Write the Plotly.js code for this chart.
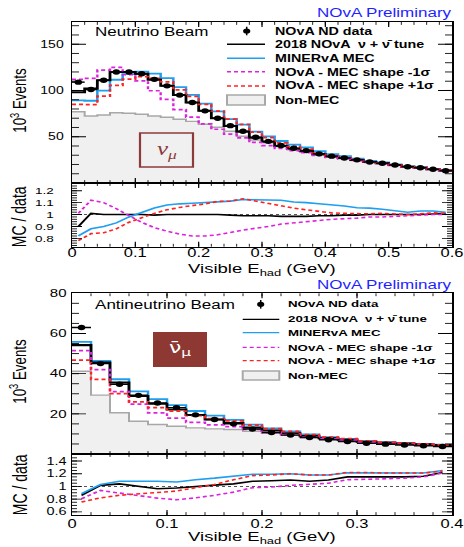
<!DOCTYPE html>
<html><head><meta charset="utf-8">
<script src="https://cdn.plot.ly/plotly-3.0.1.min.js"></script>
<style>
html,body{margin:0;padding:0;background:#fff;overflow:hidden}
#wrap{width:464px;height:547px;overflow:hidden;position:relative}
#plot{width:464px;height:760px;transform:scaleY(0.719737);transform-origin:0 0}
</style>
</head><body><div id="wrap"><div id="plot"></div></div>
<script>
// ---------- Neutrino beam (top) ----------
const binsNu = [0.01,0.03,0.05,0.07,0.09,0.11,0.13,0.15,0.17,0.19,0.21,0.23,0.25,0.27,0.29,0.31,0.33,0.35,0.37,0.39,0.41,0.43,0.45,0.47,0.49,0.51,0.53,0.55,0.57,0.59];
const dataNu    = [109,101,111,120,120,118,112,105,95,87,78,70,62,56,49.5,45,40.5,37.5,35,31.5,29,27,25,22.7,21.3,19.4,17.6,16.5,14.8,13.3];
const tuneNu    = [98,102,111,120,120,118,111.5,105,95,87,78,70,61.7,55.4,49,44.6,39.9,36.9,34.5,31.2,28.7,26.9,24.9,22.7,21.3,19.4,17.6,16.5,14.9,13.4];
const minervaNu = [89.4,88.9,99.9,111.6,117.6,120.4,118.2,113.4,103.6,95.3,85.8,77.4,69,63.1,55.6,50.4,45.4,41.4,38.5,34.3,31.3,28.9,26.4,23.9,22.3,20.1,18,17,15.2,13.6];
const minusNu   = [112,113,122,125,117,110.3,99.7,90.3,79.4,71.3,64,58.1,52.7,48.7,43.8,40.5,37.3,34.9,32.9,29.9,27.8,26.1,24.3,22.2,20.9,19.1,17.4,16.4,14.8,13.3];
const plusNu    = [85,84.8,94,105.6,112.2,115,113.1,109.2,100.7,93.5,85,77.7,69,63.4,55.1,49,43.3,39.5,36.4,32.3,29.4,27.3,25.2,22.8,21.5,19.5,17.6,16.6,15,13.4];
const nonMecNu  = [77,72.5,73.5,76,75.3,74.2,72.4,71,68.8,66.6,63.4,60.2,56,50.5,46.5,43.5,39.3,35.8,33.3,30.3,28.2,26.3,24.4,22.3,21,19.1,17.3,16.2,14.6,13.1];
const rTuneNu    = [0.9,1.01,1.0,1.0,1.0,1.0,0.995,1.0,1.0,1.0,1.0,1.0,0.995,0.99,0.99,0.99,0.985,0.985,0.985,0.99,0.99,0.995,0.995,1.0,1.0,1.0,1.0,1.0,1.005,1.01];
const rMinervaNu = [0.82,0.88,0.9,0.93,0.98,1.02,1.055,1.08,1.09,1.095,1.1,1.105,1.113,1.127,1.124,1.12,1.12,1.105,1.1,1.09,1.08,1.072,1.057,1.054,1.045,1.034,1.02,1.03,1.03,1.02];
const rMinusNu   = [1.01,1.12,1.1,1.05,0.99,0.935,0.89,0.86,0.836,0.82,0.82,0.83,0.85,0.87,0.885,0.9,0.92,0.93,0.94,0.95,0.96,0.965,0.97,0.98,0.98,0.985,0.99,0.995,1.0,1.0];
const rPlusNu    = [0.78,0.84,0.847,0.88,0.935,0.975,1.01,1.04,1.06,1.075,1.09,1.11,1.113,1.133,1.113,1.09,1.07,1.054,1.04,1.025,1.014,1.01,1.006,1.006,1.01,1.006,1.0,1.006,1.014,1.01];

// ---------- Antineutrino beam (bottom) ----------
const binsNub = [0.01,0.03,0.05,0.07,0.09,0.11,0.13,0.15,0.17,0.19,0.21,0.23,0.25,0.27,0.29,0.31,0.33,0.35,0.37,0.39];
const dataNub    = [63,45,34.7,29.2,25.4,23.1,19.5,17.2,15,12.4,10.7,9.4,8.2,7.1,6.2,5.3,4.9,4.5,4.1,3.7];
const tuneNub    = [54.2,45.6,35.6,28.9,25,22.2,19.4,17.2,15.4,13.2,11.7,10.3,8.9,7.8,7.1,6.1,5.6,5.2,4.8,4.5];
const minervaNub = [55.8,46.3,37.2,31.2,27.3,24.3,21.4,19.1,17,14.6,12.7,11.3,9.7,8.4,7.5,6.4,5.9,5.4,5.0,4.6];
const minusNub   = [51.5,42,31,24.8,20.5,17.9,15.8,14.5,13.6,12.3,10.6,9.6,8.4,7.5,6.9,5.9,5.5,5.1,4.7,4.5];
const plusNub    = [46.7,37.2,30.1,25.9,23.1,21.4,19.1,17.6,16.5,14.4,12.6,11.3,9.7,8.4,7.6,6.5,5.9,5.4,5.0,4.6];
const nonMecNub  = [41.2,29.3,20.5,16.3,14.7,13.8,13,12.5,12.2,11.3,10.3,9.3,8.2,7.3,6.6,5.7,5.3,4.9,4.5,4.2];
const rTuneNub    = [0.858,1.016,1.04,1.0,0.963,0.975,1.0,1.02,1.04,1.08,1.09,1.1,1.08,1.1,1.15,1.15,1.15,1.15,1.16,1.22];
const rMinervaNub = [0.885,1.03,1.08,1.08,1.08,1.07,1.105,1.13,1.16,1.19,1.19,1.2,1.18,1.18,1.215,1.215,1.21,1.21,1.21,1.25];
const rMinusNub   = [0.806,0.937,0.895,0.858,0.816,0.79,0.82,0.86,0.91,0.98,0.99,1.016,1.03,1.05,1.105,1.11,1.12,1.13,1.15,1.21];
const rPlusNub    = [0.753,0.82,0.86,0.885,0.91,0.927,0.98,1.03,1.105,1.17,1.18,1.2,1.18,1.18,1.22,1.22,1.21,1.21,1.21,1.24];

const binHalfWidth = 0.01;
const xTicksNu = [0,0.1,0.2,0.3,0.4,0.5,0.6];
const xTicksNub = [0,0.1,0.2,0.3,0.4];
const legendLabels = ['NOvA ND data', '2018 NOvA  ν + ν\u0304 tune', 'MINERvA MEC',
  'NOvA - MEC shape -1σ', 'NOvA - MEC shape +1σ', 'Non-MEC'];

// ---------- styles ----------
const FONT = 'Liberation Sans, Arial, Helvetica, sans-serif';
const C_BLACK = '#000000', C_BLUE = '#1e9ff0', C_MAG = '#dd22dd', C_RED = '#ff2222';
const C_GREYL = '#a8a8a8', C_GREYF = '#f0f0f0';
const DOT = '4px,3px';

function steps(c, v){
  const xs = c.map(t => t - binHalfWidth); xs.push(c[c.length-1] + binHalfWidth);
  const ys = v.slice(); ys.push(v[v.length-1]);
  return {x: xs, y: ys};
}
function stepTrace(c, v, xa, ya, color, width, dash, fill){
  const s = steps(c, v);
  const t = {x: s.x, y: s.y, xaxis: xa, yaxis: ya, mode: 'lines', type: 'scatter',
    line: {color: color, width: width, shape: 'hv', dash: dash || 'solid'}, hoverinfo: 'skip'};
  if (fill){ t.fill = 'tozeroy'; t.fillcolor = C_GREYF; }
  return t;
}
function ratioTrace(c, v, xa, ya, color, dash){
  return {x: c, y: v, xaxis: xa, yaxis: ya, mode: 'lines', type: 'scatter',
    line: {color: color, width: 2.2, dash: dash || 'solid'}, hoverinfo: 'skip'};
}
function dataTrace(c, v, xa, ya){
  return {x: c, y: v, xaxis: xa, yaxis: ya, mode: 'markers', type: 'scatter',
    marker: {color: '#000', size: 7.5, symbol: 'circle'},
    error_x: {type: 'constant', value: binHalfWidth, color: '#000', thickness: 2, width: 0},
    hoverinfo: 'skip'};
}

const traces = [
  stepTrace(binsNu, nonMecNu, 'x', 'y', C_GREYL, 2, 'solid', true),
  stepTrace(binsNu, minervaNu, 'x', 'y', C_BLUE, 2.5),
  stepTrace(binsNu, tuneNu, 'x', 'y', C_BLACK, 2.8),
  stepTrace(binsNu, minusNu, 'x', 'y', C_MAG, 2.4, DOT),
  stepTrace(binsNu, plusNu, 'x', 'y', C_RED, 2.4, DOT),
  dataTrace(binsNu, dataNu, 'x', 'y'),
  ratioTrace(binsNu, rTuneNu, 'x2', 'y2', C_BLACK),
  ratioTrace(binsNu, rMinervaNu, 'x2', 'y2', C_BLUE),
  ratioTrace(binsNu, rMinusNu, 'x2', 'y2', C_MAG, DOT),
  ratioTrace(binsNu, rPlusNu, 'x2', 'y2', C_RED, DOT),

  stepTrace(binsNub, nonMecNub, 'x3', 'y3', C_GREYL, 2, 'solid', true),
  stepTrace(binsNub, minervaNub, 'x3', 'y3', C_BLUE, 2.5),
  stepTrace(binsNub, tuneNub, 'x3', 'y3', C_BLACK, 2.8),
  stepTrace(binsNub, minusNub, 'x3', 'y3', C_MAG, 2.4, DOT),
  stepTrace(binsNub, plusNub, 'x3', 'y3', C_RED, 2.4, DOT),
  dataTrace(binsNub, dataNub, 'x3', 'y3'),
  ratioTrace(binsNub, rTuneNub, 'x4', 'y4', C_BLACK),
  ratioTrace(binsNub, rMinervaNub, 'x4', 'y4', C_BLUE),
  ratioTrace(binsNub, rMinusNub, 'x4', 'y4', C_MAG, DOT),
  ratioTrace(binsNub, rPlusNub, 'x4', 'y4', C_RED, DOT)
];

// reference-pixel helpers for page furniture
const px = x => (x - 72) / 380;
const py = y => 1 - y / 547;

function xax(range, anchor, labels, tickvals, matches, standoff){
  const a = {range: range, anchor: anchor, domain: [0,1], showline: true, linecolor: '#000', linewidth: 1.5,
    mirror: 'ticks', ticks: 'inside', ticklen: 7, tickwidth: 1.2, tickcolor: '#000',
    tickmode: 'array', tickvals: tickvals, showticklabels: labels, ticklabelstandoff: standoff || 0,
    tickfont: {family: FONT, size: 16.5, color: '#000'},
    minor: {tickmode: 'linear', tick0: 0, dtick: 0.02, ticks: 'inside', ticklen: 4, tickcolor: '#000', tickwidth: 1},
    showgrid: false, zeroline: false, fixedrange: true};
  if (matches) a.matches = matches;
  return a;
}
function yax(range, anchor, domain, tickvals, minorD, majLen, minLen, fs, standoff){
  return {range: range, anchor: anchor, domain: domain, showline: true, linecolor: '#000', linewidth: 1.5,
    mirror: 'ticks', ticks: 'inside', ticklen: majLen, tickwidth: 1.2, tickcolor: '#000',
    tickmode: 'array', tickvals: tickvals, ticklabelstandoff: standoff,
    tickfont: {family: FONT, size: fs, color: '#000'},
    minor: {tickmode: 'linear', tick0: 0, dtick: minorD, ticks: 'inside', ticklen: minLen, tickcolor: '#000', tickwidth: 1},
    showgrid: false, zeroline: false, fixedrange: true};
}

const shapes = [
  {type: 'line', xref: 'x2', yref: 'y2', x0: 0, x1: 0.6, y0: 1, y1: 1, layer: 'below',
   line: {color: '#555', width: 1.3, dash: '3px,3px'}},
  {type: 'line', xref: 'x4', yref: 'y4', x0: 0, x1: 0.4, y0: 1, y1: 1, layer: 'below',
   line: {color: '#555', width: 1.3, dash: '3px,3px'}},
  {type: 'rect', xref: 'paper', yref: 'paper', x0: px(140), x1: px(193), y0: py(167), y1: py(133),
   line: {color: '#8c3a3a', width: 2.2}, fillcolor: 'rgba(0,0,0,0)'},
  {type: 'rect', xref: 'paper', yref: 'paper', x0: px(153), x1: px(207), y0: py(367), y1: py(332),
   line: {color: '#8e3833', width: 0}, fillcolor: '#8e3833'}
];
const annotations = [];
function ann(text, x, y, opts){
  annotations.push(Object.assign({text: text, x: px(x), y: py(y), xref: 'paper', yref: 'paper',
    showarrow: false, xanchor: 'left', yanchor: 'middle',
    font: {family: FONT, size: 14, color: '#000'}}, opts || {}));
}

function legend(rows, x0, x1, xdot, xtext, fs, lw, boxY0, boxY1){
  shapes.push({type: 'circle', xref: 'paper', yref: 'paper', x0: px(xdot-3.6), x1: px(xdot+3.6),
    y0: py(rows[0]+2.6), y1: py(rows[0]-2.6), fillcolor: '#000', line: {color: '#000', width: 0}});
  shapes.push({type: 'line', xref: 'paper', yref: 'paper', x0: px(xdot), x1: px(xdot),
    y0: py(rows[0]+4.3), y1: py(rows[0]-4.3), line: {color: '#000', width: 1.5}});
  const styles = [[C_BLACK,'solid'],[C_BLUE,'solid'],[C_MAG,DOT],[C_RED,DOT]];
  styles.forEach((s,i) => shapes.push({type: 'line', xref: 'paper', yref: 'paper', x0: px(x0), x1: px(x1),
    y0: py(rows[i+1]), y1: py(rows[i+1]), line: {color: s[0], width: lw, dash: s[1]}}));
  shapes.push({type: 'rect', xref: 'paper', yref: 'paper', x0: px(x0), x1: px(x1), y0: py(boxY1), y1: py(boxY0),
    fillcolor: C_GREYF, line: {color: C_GREYL, width: 2}});
  legendLabels.forEach((t,i) => ann(t, xtext, rows[i],
    {font: {family: FONT, size: fs, color: '#000', weight: 'bold'}}));
}
legend([31,44.3,58.3,71.7,86,100], 227, 265, 246.7, 273, 14.3, 2.2, 95, 105);
legend([304.3,319.3,332.7,347.3,360.7,375], 242.7, 279.3, 260.7, 286, 13.3, 1.6, 371, 380);

// titles and labels
ann('NOvA Preliminary', 453.5, 12.7, {xanchor: 'right', font: {family: FONT, size: 17, color: '#1f1fff'}});
ann('NOvA Preliminary', 453.5, 285, {xanchor: 'right', font: {family: FONT, size: 17, color: '#1f1fff'}});
ann('Neutrino Beam', 93, 32, {font: {family: FONT, size: 17, color: '#000'}});
ann('Antineutrino Beam', 93, 304.7, {font: {family: FONT, size: 17, color: '#000'}});
ann('10<sup>3</sup> Events', 18.5, 100.7, {xanchor: 'center', textangle: -90, font: {family: FONT, size: 18.5, color: '#000'}});
ann('10<sup>3</sup> Events', 18.5, 371.7, {xanchor: 'center', textangle: -90, font: {family: FONT, size: 18.5, color: '#000'}});
ann('MC / data', 20, 217, {xanchor: 'center', textangle: -90, font: {family: FONT, size: 19.5, color: '#000'}});
ann('MC / data', 20, 485, {xanchor: 'center', textangle: -90, font: {family: FONT, size: 19.5, color: '#000'}});
ann('Visible E<sub>had</sub> (GeV)', 262, 269.5, {xanchor: 'center', font: {family: FONT, size: 18.5, color: '#000'}});
ann('Visible E<sub>had</sub> (GeV)', 262, 538, {xanchor: 'center', font: {family: FONT, size: 18.5, color: '#000'}});
ann('<i>ν<sub>μ</sub></i>', 166.5, 150, {xanchor: 'center', font: {family: 'Liberation Serif, serif', size: 25, color: '#8c3a3a'}});
ann('ν\u0304<sub>μ</sub>', 180, 349, {xanchor: 'center', font: {family: 'DejaVu Sans, sans-serif', size: 22, color: '#ffffff'}});

const layout = {
  width: 464, height: 760, margin: {l: 72, r: 12, t: 0, b: 0, pad: 0},
  paper_bgcolor: '#fff', plot_bgcolor: '#fff', showlegend: false,
  font: {family: FONT, color: '#000'},
  xaxis:  xax([0,0.6], 'y', false, xTicksNu),
  xaxis2: xax([0,0.6], 'y2', true, xTicksNu, 'x', -7),
  xaxis3: xax([0,0.4], 'y3', false, xTicksNub),
  xaxis4: xax([0,0.4], 'y4', true, xTicksNub, 'x3', -3),
  yaxis:  yax([0,174], 'x', [py(183), py(22)], [50,100,150], 10, 14, 7, 14, 4),
  yaxis2: yax([0.73,1.265], 'x2', [py(246.7), py(183)], [0.8,0.9,1,1.1,1.2], 0.02, 10, 5, 13.5, 14),
  yaxis3: yax([0,80], 'x3', [py(454), py(293.3)], [20,40,60,80], 5, 14, 7, 15, 1),
  yaxis4: yax([0.55,1.51], 'x4', [py(515), py(454)], [0.6,0.8,1,1.2,1.4], 0.05, 10, 5, 14.5, 1),
  shapes: shapes, annotations: annotations
};
Plotly.newPlot('plot', traces, layout, {staticPlot: true, displayModeBar: false});
</script></body></html>
